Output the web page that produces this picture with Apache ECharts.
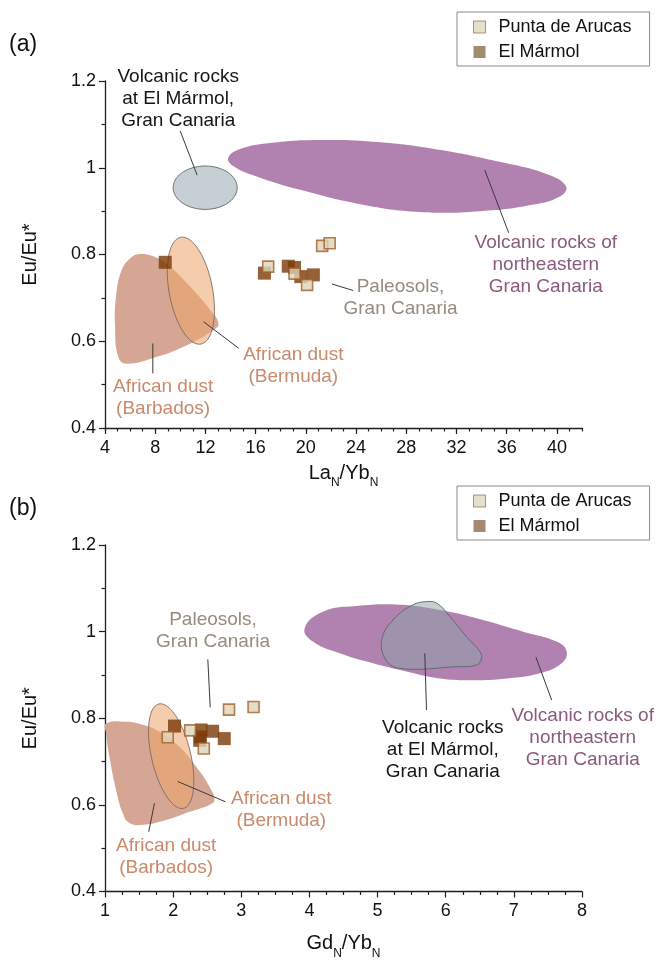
<!DOCTYPE html>
<html>
<head>
<meta charset="utf-8">
<script src="https://cdn.jsdelivr.net/npm/echarts@6/dist/echarts.min.js"></script>
<style>
  html, body { margin: 0; padding: 0; background: #ffffff; }
  #chart { width: 657px; height: 962px; }
</style>
</head>
<body>
<div id="chart"></div>
<script>
// ---- Sample values ----
// Eu/Eu* of each sample (shared by both diagrams)
const puntaEu = [0.772, 0.756, 0.730, 0.820, 0.826];
const marmolEu = [0.782, 0.757, 0.773, 0.770, 0.749, 0.753];
// La_N/Yb_N
const puntaLaYb = [17.0, 19.1, 20.1, 21.3, 21.9];
const marmolLaYb = [8.8, 16.7, 18.6, 19.1, 19.6, 20.6];
// Gd_N/Yb_N
const puntaGdYb = [2.25, 1.92, 2.45, 2.82, 3.18];
const marmolGdYb = [2.02, 2.40, 2.41, 2.58, 2.39, 2.75];

// ---- Axis ticks ----
const laTicks = [4, 8, 12, 16, 20, 24, 28, 32, 36, 40];
const laMax = 42;
const gdTicks = [1, 2, 3, 4, 5, 6, 7, 8];
const euTicks = [0.4, 0.6, 0.8, 1.0, 1.2];

// ---- Reference fields, La_N/Yb_N vs Eu/Eu* ----
const laBarbados = [[6.79,0.801],[7.99,0.794],[9.19,0.772],[10.78,0.726],[12.38,0.672],[13.04,0.641],
  [12.64,0.626],[10.52,0.591],[8.13,0.564],[5.73,0.548],[5.06,0.564],[4.80,0.634],[4.88,0.703],
  [5.33,0.764],[6.0,0.791]];
const laNeVolcanic = [[13.82,1.0225],[14.77,1.043],[17.17,1.057],[21.16,1.064],[25.95,1.059],[30.74,1.041],
  [35.52,1.013],[39.12,0.986],[40.71,0.958],[40.31,0.935],[37.92,0.914],[33.93,0.900],[29.14,0.898],
  [24.35,0.916],[19.56,0.949],[15.97,0.981],[14.22,1.004]];
// ellipses: centre, end of one half-axis, end of the conjugate half-axis
const laMarmolVolcanic = [[11.98,0.954],[14.53,0.954],[11.98,1.004]];
const laBermuda = [[10.84,0.7166],[10.04,0.8397],[12.54,0.7258]];

// ---- Reference fields, Gd_N/Yb_N vs Eu/Eu* ----
const gdBarbados = [[1.016,0.788],[1.31,0.792],[1.554,0.785],[1.80,0.769],[2.093,0.734],[2.339,0.688],
  [2.534,0.642],[2.607,0.611],[2.534,0.600],[2.24,0.584],[1.898,0.565],[1.554,0.554],[1.358,0.558],
  [1.26,0.581],[1.163,0.634],[1.065,0.711],[1.016,0.765]];
const gdNeVolcanic = [[3.93,1.008],[4.199,1.046],[4.689,1.059],[5.326,1.062],[5.913,1.050],[6.453,1.031],
  [7.137,1.000],[7.628,0.977],[7.775,0.954],[7.701,0.927],[7.383,0.904],[6.893,0.892],[6.403,0.888],
  [5.913,0.892],[5.424,0.908],[4.933,0.927],[4.444,0.950],[4.052,0.977]];
const gdMarmolVolcanic = [[5.693,1.069],[5.865,1.066],[6.060,1.035],[6.306,0.988],[6.501,0.954],[6.526,0.939],
  [6.453,0.923],[6.159,0.919],[5.326,0.915],[5.105,0.939],[5.071,0.988],[5.277,1.035],[5.521,1.062]];
const gdBermuda = [[1.971,0.7125],[1.790,0.833],[2.250,0.7229]];

// ---- Styles ----
const FONT = 'Liberation Sans, Arial, Helvetica, sans-serif';
const C_PURPLE = '#b182b0';
const C_GREY = 'rgba(141,161,169,0.5)';
const C_BARBADOS = '#d6a695';
const C_BERMUDA = 'rgba(239,164,104,0.55)';
const T_BLACK = '#151515', T_PURPLE = '#8a5a7c', T_SOIL = '#968b7d', T_DUST = '#c88a6b';

// Annotations placed in data units of each diagram
const laNotes = [
  { text: 'Volcanic rocks\nat El Mármol,\nGran Canaria', at: [9.83, 1.158], color: T_BLACK, line: [[9.99,1.085],[11.34,0.983]] },
  { text: 'Volcanic rocks of\nnortheastern\nGran Canaria', at: [39.12, 0.776], color: T_PURPLE, line: [[34.25,0.995],[36.16,0.850]] },
  { text: 'Paleosols,\nGran Canaria', at: [27.54, 0.700], color: T_SOIL, line: [[22.09,0.732],[23.77,0.717]] },
  { text: 'African dust\n(Bermuda)', at: [19.0, 0.543], color: T_DUST, line: [[11.85,0.645],[14.64,0.584]] },
  { text: 'African dust\n(Barbados)', at: [8.63, 0.469], color: T_DUST, line: [[7.81,0.595],[7.81,0.526]] }
];
const gdNotes = [
  { text: 'Paleosols,\nGran Canaria', at: [2.585, 1.0016], color: T_SOIL, line: [[2.509,0.936],[2.544,0.825]] },
  { text: 'Volcanic rocks\nat El Mármol,\nGran Canaria', at: [5.957, 0.727], color: T_BLACK, line: [[5.693,0.950],[5.718,0.819]] },
  { text: 'Volcanic rocks of\nnortheastern\nGran Canaria', at: [8.01, 0.756], color: T_PURPLE, line: [[7.324,0.941],[7.555,0.842]] },
  { text: 'African dust\n(Bermuda)', at: [3.587, 0.589], color: T_DUST, line: [[2.068,0.654],[2.769,0.607]] },
  { text: 'African dust\n(Barbados)', at: [1.898, 0.480], color: T_DUST, line: [[1.726,0.604],[1.642,0.538]] }
];

// ---- Series builders ----
function fieldSeries(xi, yi, outline, style, smooth) {
  return {
    type: 'custom', xAxisIndex: xi, yAxisIndex: yi, silent: true, clip: false,
    data: [outline[0]],
    renderItem: function (params, api) {
      return {
        type: 'polygon',
        shape: { points: outline.map(p => api.coord(p)), smooth: smooth },
        style: style
      };
    }
  };
}
function ellipseSeries(xi, yi, axes, style) {
  return {
    type: 'custom', xAxisIndex: xi, yAxisIndex: yi, silent: true, clip: false,
    data: [axes[0]],
    renderItem: function (params, api) {
      const c = api.coord(axes[0]), a = api.coord(axes[1]), b = api.coord(axes[2]);
      const pts = [];
      const n = 90;
      for (let i = 0; i < n; i++) {
        const t = i / n * Math.PI * 2;
        pts.push([
          c[0] + Math.cos(t) * (a[0] - c[0]) + Math.sin(t) * (b[0] - c[0]),
          c[1] + Math.cos(t) * (a[1] - c[1]) + Math.sin(t) * (b[1] - c[1])
        ]);
      }
      return { type: 'polygon', shape: { points: pts }, style: style };
    }
  };
}
function noteSeries(xi, yi, notes) {
  return {
    type: 'custom', xAxisIndex: xi, yAxisIndex: yi, silent: true, clip: false, z: 5,
    data: notes.map(n => n.at),
    renderItem: function (params, api) {
      const n = notes[params.dataIndex];
      const p = api.coord(n.at);
      const l0 = api.coord(n.line[0]), l1 = api.coord(n.line[1]);
      return {
        type: 'group',
        children: [
          { type: 'line', shape: { x1: l0[0], y1: l0[1], x2: l1[0], y2: l1[1] },
            style: { stroke: '#3a3a3a', lineWidth: 1 } },
          { type: 'text', x: p[0], y: p[1],
            style: { text: n.text, fill: n.color, fontSize: 19, fontFamily: FONT,
                     align: 'center', verticalAlign: 'middle', lineHeight: 22 } }
        ]
      };
    }
  };
}
function pairs(xs, ys) { return xs.map((x, i) => [x, ys[i]]); }

const puntaStyle = { color: '#ddd3b6', borderColor: '#a05f2d', borderWidth: 1.6 };
const marmolStyle = { color: '#7a3906' };
function pointSeries(name, xi, yi, data, style, size) {
  return {
    type: 'scatter', name: name, xAxisIndex: xi, yAxisIndex: yi, z: 4,
    symbol: 'rect', symbolSize: size, data: data, itemStyle: style, silent: true
  };
}

// ---- Axes ----
const axisLine = { lineStyle: { color: '#1e1e1e', width: 1.3 } };
const tickLine = { color: '#1e1e1e', width: 1.2 };
const labelStyle = { fontSize: 18, color: '#111', fontFamily: FONT };
const nameRich = {
  m: { fontSize: 20, fontFamily: FONT, color: '#111', lineHeight: 22, verticalAlign: 'middle' },
  s: { fontSize: 12, fontFamily: FONT, color: '#111', lineHeight: 32, verticalAlign: 'bottom' }
};

function yAxisFor(grid) {
  return {
    type: 'value', gridIndex: grid, min: euTicks[0], max: euTicks[euTicks.length - 1], interval: 0.2,
    axisLine: Object.assign({ show: true }, axisLine),
    axisTick: { show: true, length: 6, lineStyle: tickLine },
    minorTick: { show: true, splitNumber: 2, length: 3.5, lineStyle: tickLine },
    axisLabel: Object.assign({ margin: 9 }, labelStyle),
    splitLine: { show: false },
    name: 'Eu/Eu*', nameLocation: 'middle', nameGap: 65, nameRotate: 90,
    nameTextStyle: { fontSize: 20, color: '#111', fontFamily: FONT }
  };
}

const legendItems = [
  { name: 'Punta de Arucas', itemStyle: { color: '#e0d6c2', borderColor: '#9c7650', borderWidth: 1 } },
  { name: 'El Mármol', itemStyle: { color: '#8c6d4d', borderWidth: 0 } }
];
function legendAt(top) {
  return {
    data: legendItems, orient: 'vertical', left: 457, top: top,
    icon: 'rect', itemWidth: 12, itemHeight: 12, itemGap: 5,
    padding: [5, 18, 4, 16], borderColor: '#8a8a8a', borderWidth: 1, backgroundColor: '#fff',
    selectedMode: false,
    textStyle: { fontSize: 18, color: '#111', fontFamily: FONT, padding: [0, 0, 0, 8], lineHeight: 20 }
  };
}

const option = {
  animation: false,
  backgroundColor: '#ffffff',
  grid: [
    { left: 105, top: 81, width: 477, height: 347 },
    { left: 105, top: 545, width: 477, height: 346.5 }
  ],
  xAxis: [
    {
      type: 'value', gridIndex: 0, position: 'bottom', min: laTicks[0], max: laMax, interval: 4,
      axisLine: Object.assign({ show: true }, axisLine),
      axisTick: { show: true, length: 6, lineStyle: tickLine, customValues: laTicks },
      axisLabel: Object.assign({ margin: 11, customValues: laTicks,
        formatter: v => (laTicks.indexOf(v) >= 0 ? String(v) : '') }, labelStyle),
      splitLine: { show: false },
      name: '{m|La}{s|N}{m|/Yb}{s|N}', nameLocation: 'middle', nameGap: 29,
      nameTextStyle: { rich: nameRich }
    },
    {
      // unit minor ticks along the same bottom axis
      type: 'value', gridIndex: 0, position: 'bottom', offset: 0, min: laTicks[0], max: laMax, interval: 1,
      axisLine: { show: false },
      axisTick: { show: true, length: 3.5, lineStyle: tickLine },
      axisLabel: { show: false }, splitLine: { show: false }
    },
    {
      type: 'value', gridIndex: 1, position: 'bottom', min: gdTicks[0], max: gdTicks[gdTicks.length - 1], interval: 1,
      axisLine: Object.assign({ show: true }, axisLine),
      axisTick: { show: true, length: 6, lineStyle: tickLine },
      minorTick: { show: true, splitNumber: 4, length: 3.5, lineStyle: tickLine },
      axisLabel: Object.assign({ margin: 11 }, labelStyle),
      splitLine: { show: false },
      name: '{m|Gd}{s|N}{m|/Yb}{s|N}', nameLocation: 'middle', nameGap: 36,
      nameTextStyle: { rich: nameRich }
    }
  ],
  yAxis: [yAxisFor(0), yAxisFor(1)],
  legend: [legendAt(12), legendAt(486)],
  graphic: [
    { type: 'text', left: 9, top: 33, style: { text: '(a)', fontSize: 23, fill: '#111', fontFamily: FONT } },
    { type: 'text', left: 9, top: 497, style: { text: '(b)', fontSize: 23, fill: '#111', fontFamily: FONT } }
  ],
  series: [
    // diagram (a)
    fieldSeries(0, 0, laNeVolcanic, { fill: C_PURPLE }, 0.45),
    ellipseSeries(0, 0, laMarmolVolcanic, { fill: C_GREY, stroke: '#5e6466', lineWidth: 0.9 }),
    fieldSeries(0, 0, laBarbados, { fill: C_BARBADOS }, 0.45),
    ellipseSeries(0, 0, laBermuda, { fill: C_BERMUDA, stroke: '#7b6b62', lineWidth: 0.9 }),
    noteSeries(0, 0, laNotes),
    pointSeries('El Mármol', 0, 0, pairs(marmolLaYb, marmolEu), marmolStyle, 13),
    pointSeries('Punta de Arucas', 0, 0, pairs(puntaLaYb, puntaEu), puntaStyle, 11),
    // diagram (b)
    fieldSeries(2, 1, gdNeVolcanic, { fill: C_PURPLE }, 0.45),
    fieldSeries(2, 1, gdMarmolVolcanic, { fill: C_GREY, stroke: '#5e6466', lineWidth: 0.9 }, 0.4),
    fieldSeries(2, 1, gdBarbados, { fill: C_BARBADOS }, 0.45),
    ellipseSeries(2, 1, gdBermuda, { fill: C_BERMUDA, stroke: '#7b6b62', lineWidth: 0.9 }),
    noteSeries(2, 1, gdNotes),
    pointSeries('El Mármol', 2, 1, pairs(marmolGdYb, marmolEu), marmolStyle, 13),
    pointSeries('Punta de Arucas', 2, 1, pairs(puntaGdYb, puntaEu), puntaStyle, 11)
  ]
};

const chart = echarts.init(document.getElementById('chart'), null, { renderer: 'canvas' });
chart.setOption(option);
</script>
</body>
</html>
